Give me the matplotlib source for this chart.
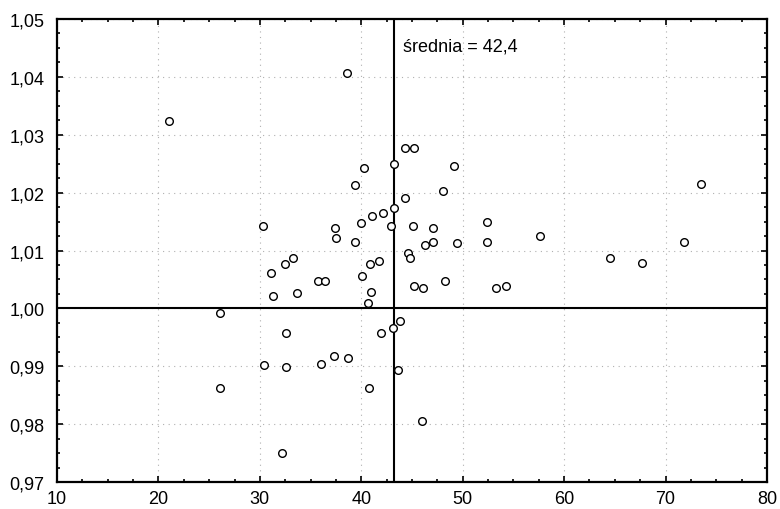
import matplotlib
matplotlib.use('Agg')
import matplotlib.pyplot as plt
from matplotlib.ticker import MultipleLocator, FuncFormatter

plt.rcParams['font.family'] = ['Liberation Sans', 'DejaVu Sans']

MEAN_LINE_X = 43.2
MEAN_LABEL = 'średnia = 42,4'
REF_Y = 1.00

x_vals = [21.0, 38.6, 44.3, 45.2, 43.2, 40.3, 49.1, 39.4, 48.1, 44.3,
          43.2, 42.1, 41.1, 40.0, 30.3, 37.4, 42.9, 45.1, 47.1, 52.4,
          37.5, 39.4, 46.3, 47.1, 49.4, 52.4, 57.6, 71.8, 73.5, 33.3,
          32.5, 31.1, 31.3, 33.7, 35.7, 36.4, 40.1, 40.9, 41.7, 41.0,
          40.7, 44.6, 44.8, 45.2, 46.1, 48.3, 53.3, 54.3, 64.5, 67.7,
          26.1, 26.1, 43.8, 43.1, 41.9, 32.6, 37.3, 38.7, 36.0, 30.4,
          32.6, 43.6, 40.8, 46.0, 32.2]
y_vals = [1.0324, 1.0407, 1.0277, 1.0277, 1.0250, 1.0243, 1.0246, 1.0214, 1.0203, 1.0191,
          1.0174, 1.0165, 1.0160, 1.0148, 1.0142, 1.0139, 1.0142, 1.0142, 1.0139, 1.0150,
          1.0122, 1.0114, 1.0110, 1.0114, 1.0113, 1.0114, 1.0125, 1.0115, 1.0215, 1.0087,
          1.0077, 1.0061, 1.0021, 1.0027, 1.0047, 1.0047, 1.0056, 1.0077, 1.0082, 1.0028,
          1.0009, 1.0095, 1.0087, 1.0038, 1.0035, 1.0047, 1.0035, 1.0038, 1.0087, 1.0079,
          0.9992, 0.9862, 0.9978, 0.9966, 0.9958, 0.9958, 0.9917, 0.9915, 0.9904, 0.9902,
          0.9899, 0.9894, 0.9862, 0.9806, 0.9751]

fig = plt.figure(figsize=(7.8, 5.1), dpi=100)
ax = fig.add_axes([0.0731, 0.0529, 0.9102, 0.9079])

ax.set_xlim(10, 80)
ax.set_ylim(0.97, 1.05)
ax.xaxis.set_major_locator(MultipleLocator(10))
ax.yaxis.set_major_locator(MultipleLocator(0.01))
ax.xaxis.set_minor_locator(MultipleLocator(2.5))
ax.yaxis.set_minor_locator(MultipleLocator(0.0025))
ax.yaxis.set_major_formatter(FuncFormatter(lambda v, p: f'{v:.2f}'.replace('.', ',')))
ax.xaxis.set_major_formatter(FuncFormatter(lambda v, p: f'{v:.0f}'))

ax.grid(True, which='major', linestyle=(0, (1, 4)), color='#b0b0b0', linewidth=0.8)
ax.tick_params(which='both', direction='in', top=True, right=True, labelsize=13, width=1.2)
ax.tick_params(which='major', length=4)
ax.tick_params(axis='y', which='major', pad=9)
ax.tick_params(axis='x', which='major', pad=6)
ax.tick_params(which='minor', length=2)
for s in ax.spines.values():
    s.set_linewidth(1.6)

ax.axhline(REF_Y, color='black', linewidth=1.5, zorder=2)
ax.axvline(MEAN_LINE_X, color='black', linewidth=1.5, zorder=2)
ax.text(MEAN_LINE_X + 0.9, 1.0453, MEAN_LABEL, fontsize=13, va='center', ha='left')

ax.plot(x_vals, y_vals, linestyle='none', marker='o', markersize=5.5,
        markerfacecolor='white', markeredgecolor='black', markeredgewidth=1.0, zorder=3)

fig.savefig('out.png', dpi=100)
